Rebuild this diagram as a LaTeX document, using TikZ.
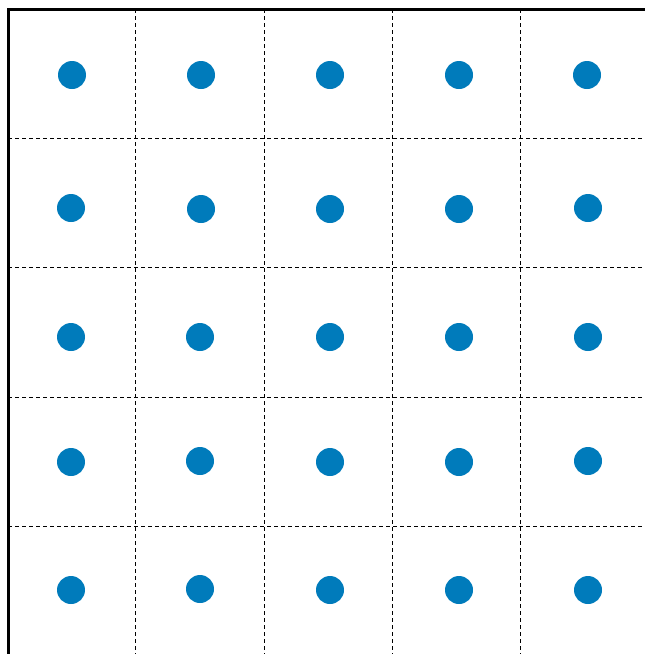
\documentclass[tikz,border=0pt]{standalone}
\definecolor{dotblue}{RGB}{0,123,187}
\tikzset{
  dotnode/.style={circle,fill=dotblue,draw=none,minimum size=28pt,inner sep=0pt},
  gridline/.style={line width=0.9pt,dash pattern=on 4pt off 3pt,black},
  frameline/.style={line width=3pt,black}
}
\begin{document}
\begin{tikzpicture}[x=1pt,y=-1pt]
\useasboundingbox (0,0) rectangle (645,654);
% dashed grid
\foreach \x in {135,264,392,520} \draw[gridline] (\x,9) -- (\x,654);
\foreach \y in {138,267,397,526} \draw[gridline] (8,\y) -- (645,\y);
% frame
\draw[frameline] (8,654) -- (8,9) -- (645,9);
% dots
\node[dotnode] (d11) at (72,75) {};
\node[dotnode] (d12) at (201,75) {};
\node[dotnode] (d13) at (330,75) {};
\node[dotnode] (d14) at (459,75) {};
\node[dotnode] (d15) at (587,75) {};
\node[dotnode] (d21) at (71,208) {};
\node[dotnode] (d22) at (201,209) {};
\node[dotnode] (d23) at (330,209) {};
\node[dotnode] (d24) at (459,209) {};
\node[dotnode] (d25) at (588,208) {};
\node[dotnode] (d31) at (71,337) {};
\node[dotnode] (d32) at (200,337) {};
\node[dotnode] (d33) at (330,337) {};
\node[dotnode] (d34) at (459,337) {};
\node[dotnode] (d35) at (588,337) {};
\node[dotnode] (d41) at (71,462) {};
\node[dotnode] (d42) at (200,461) {};
\node[dotnode] (d43) at (330,462) {};
\node[dotnode] (d44) at (459,462) {};
\node[dotnode] (d45) at (588,461) {};
\node[dotnode] (d51) at (71,590) {};
\node[dotnode] (d52) at (200,589) {};
\node[dotnode] (d53) at (330,590) {};
\node[dotnode] (d54) at (459,590) {};
\node[dotnode] (d55) at (588,590) {};
\end{tikzpicture}
\end{document}
